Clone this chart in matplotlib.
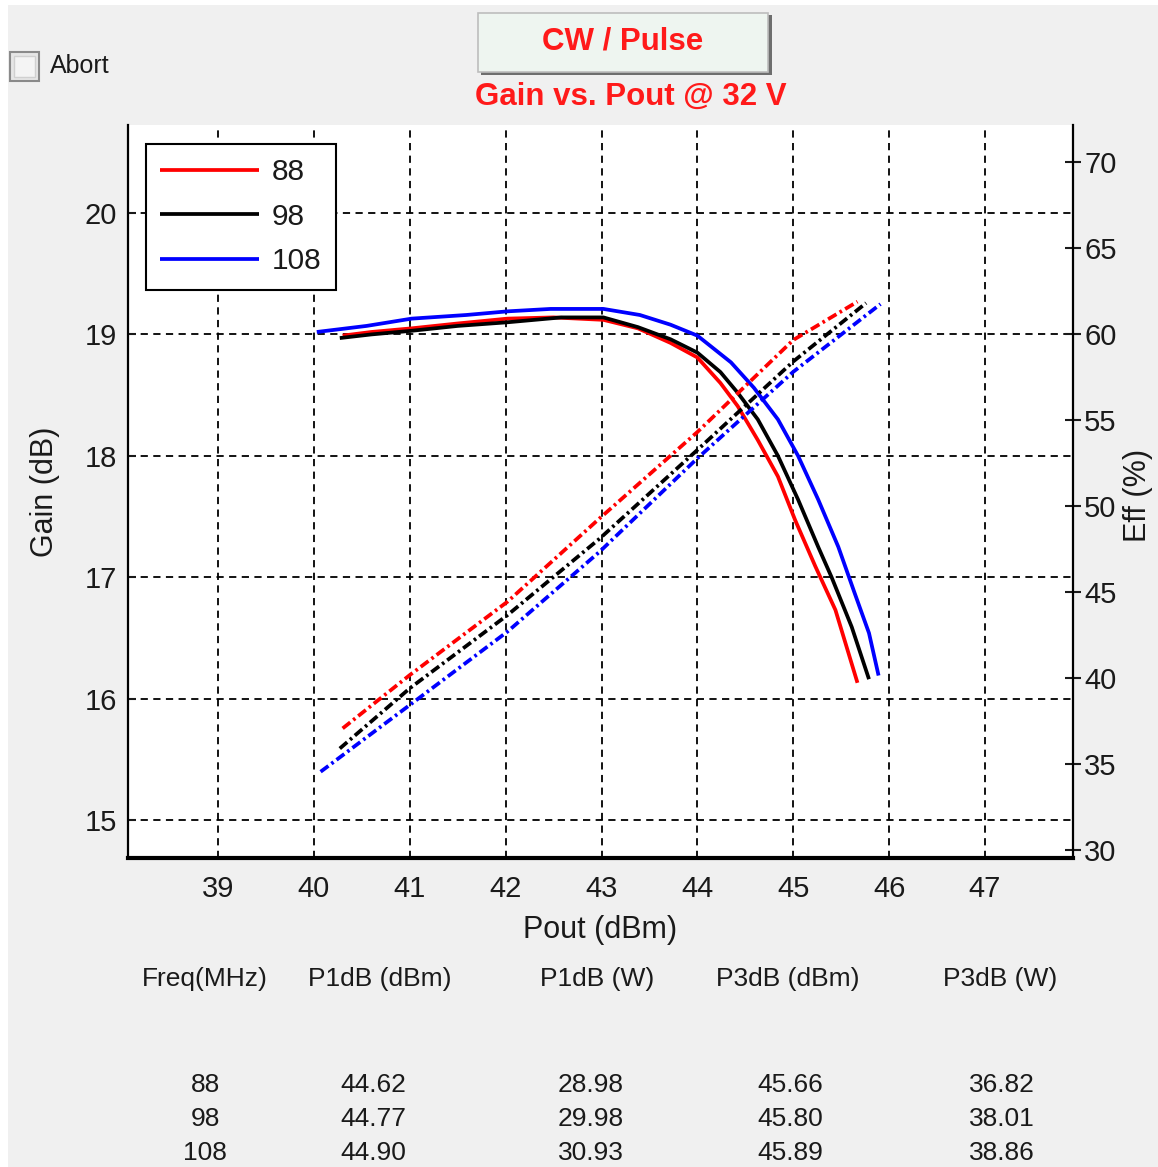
import matplotlib
matplotlib.use("Agg")
import matplotlib.pyplot as plt
from matplotlib.patches import Rectangle

# ---------------- data ----------------
series_names = ["88", "98", "108"]
series_colors = ["#ff0000", "#000000", "#0000ff"]

gain_x_88 = [40.30, 40.6, 41.02, 41.5, 42.02, 42.5, 43.02, 43.38, 43.72, 44.0, 44.24, 44.42, 44.63, 44.84, 45.02, 45.23, 45.44, 45.67]
gain_y_88 = [18.99, 19.02, 19.05, 19.09, 19.13, 19.14, 19.12, 19.05, 18.93, 18.81, 18.60, 18.41, 18.13, 17.83, 17.47, 17.09, 16.73, 16.13]
gain_x_98 = [40.27, 40.6, 41.02, 41.5, 42.02, 42.58, 43.02, 43.38, 43.72, 44.0, 44.24, 44.42, 44.63, 44.84, 45.05, 45.26, 45.4, 45.61, 45.79]
gain_y_98 = [18.97, 19.0, 19.03, 19.07, 19.10, 19.14, 19.14, 19.06, 18.96, 18.85, 18.69, 18.52, 18.30, 18.0, 17.64, 17.25, 17.0, 16.59, 16.16]
gain_x_108 = [40.03, 40.55, 41.02, 41.59, 42.02, 42.47, 43.02, 43.4, 43.72, 44.0, 44.35, 44.59, 44.84, 45.05, 45.26, 45.47, 45.64, 45.79, 45.89]
gain_y_108 = [19.02, 19.07, 19.13, 19.16, 19.19, 19.21, 19.21, 19.16, 19.08, 18.99, 18.77, 18.56, 18.30, 18.0, 17.64, 17.25, 16.87, 16.54, 16.19]

eff_x_88 = [40.30, 41.0, 42.02, 42.98, 44.0, 45.0, 45.67]
eff_y_88 = [37.07, 40.17, 44.44, 49.28, 54.3, 59.65, 61.88]
eff_x_98 = [40.27, 41.0, 42.02, 42.98, 44.0, 45.0, 45.76]
eff_y_98 = [35.9, 39.4, 43.66, 48.1, 53.26, 58.4, 61.8]
eff_x_108 = [40.07, 41.0, 42.02, 42.98, 44.0, 45.0, 45.91]
eff_y_108 = [34.55, 38.43, 42.7, 47.34, 52.77, 57.8, 61.74]

x_ticks = [39, 40, 41, 42, 43, 44, 45, 46, 47]
gain_ticks = [15, 16, 17, 18, 19, 20]
eff_ticks = [30, 35, 40, 45, 50, 55, 60, 65, 70]

table_headers = ["Freq(MHz)", "P1dB (dBm)", "P1dB (W)", "P3dB (dBm)", "P3dB (W)"]
freq_mhz = ["88", "98", "108"]
p1db_dbm = [44.62, 44.77, 44.90]
p1db_w = [28.98, 29.98, 30.93]
p3db_dbm = [45.66, 45.80, 45.89]
p3db_w = [36.82, 38.01, 38.86]

# ---------------- figure ----------------
W, H = 1158, 1167
fig = plt.figure(figsize=(W / 100, H / 100), dpi=100, facecolor="#ffffff")
FONT = ["Liberation Sans", "DejaVu Sans"]
plt.rcParams["font.family"] = FONT


def fx(x):
    return x / W


def fy(y):
    return 1 - y / H


# gray background panel
fig.patches.append(Rectangle((fx(8), 0), 1, fy(5), transform=fig.transFigure,
                             facecolor="#f0f0f0", edgecolor="none", zorder=-10))

ax = fig.add_axes([fx(128), fy(858), fx(1073) - fx(128), fy(125) - fy(858)])
ax.set_facecolor("white")
ax2 = ax.twinx()

gx = [gain_x_88, gain_x_98, gain_x_108]
gy = [gain_y_88, gain_y_98, gain_y_108]
ex = [eff_x_88, eff_x_98, eff_x_108]
ey = [eff_y_88, eff_y_98, eff_y_108]

handles = []
for i in range(3):
    h, = ax.plot(gx[i], gy[i], color=series_colors[i], lw=2.7, solid_capstyle="butt",
                 solid_joinstyle="round", label=series_names[i], zorder=3)
    handles.append(h)
    ax2.plot(ex[i], ey[i], color=series_colors[i], lw=2.7,
             linestyle=(0, (2.6, 1.0, 0.7, 1.0)), zorder=3)

ax.set_xlim(38.061, 47.918)
ax.set_ylim(14.687, 20.725)
ax2.set_ylim(29.535, 72.15)
ax.set_xticks(x_ticks)
ax.set_yticks(gain_ticks)
ax2.set_yticks(eff_ticks)

ax.grid(True, color="black", linestyle=(0, (4, 3)), lw=1.3)
ax.tick_params(axis="x", direction="in", length=0, labelsize=21, pad=12, colors="#1a1a1a")
ax.tick_params(axis="y", direction="in", length=6, width=1.5, labelsize=21, pad=8, colors="#1a1a1a")
ax2.tick_params(axis="y", direction="inout", length=12, width=1.5, labelsize=21, pad=2, colors="#1a1a1a")

for a in (ax, ax2):
    a.spines["top"].set_visible(False)
ax.spines["right"].set_visible(False)
ax2.spines["left"].set_visible(False)
ax2.spines["bottom"].set_visible(False)
ax.spines["left"].set_linewidth(1.6)
ax.spines["bottom"].set_linewidth(3.0)
ax2.spines["right"].set_linewidth(1.6)

ax.set_xlabel("Pout (dBm)", fontsize=22, color="#1a1a1a", va="center")
ax.xaxis.set_label_coords(0.5, (858 - 930) / 733)
ax.set_ylabel("Gain (dB)", fontsize=22, color="#1a1a1a", va="center")
ax.yaxis.set_label_coords((45 - 128) / 945, (858 - 492) / 733)
ax2.set_ylabel("Eff (%)", fontsize=22, color="#1a1a1a", va="center", rotation=90)
ax2.yaxis.set_label_coords((1138 - 128) / 945, (858 - 495) / 733)

leg = ax2.legend(handles=handles, loc="upper left", bbox_to_anchor=(fx(145.7), fy(144)),
                 bbox_transform=fig.transFigure, borderaxespad=0, fontsize=21.5,
                 handlelength=3.3, handletextpad=0.45, labelspacing=0.55,
                 borderpad=0.48, fancybox=False, framealpha=1, edgecolor="black")
leg.get_frame().set_linewidth(1.5)
for t in leg.get_texts():
    t.set_color("#1a1a1a")

# ---------------- header widgets ----------------
fig.patches.append(Rectangle((fx(10), fy(81)), fx(29), fy(52) - fy(81), transform=fig.transFigure,
                             facecolor="#e6e6e6", edgecolor="#8a8a8a", lw=1.5))
fig.patches.append(Rectangle((fx(14), fy(77)), fx(21), fy(56) - fy(77), transform=fig.transFigure,
                             facecolor="#f4f4f4", edgecolor="#d0d0d0", lw=1))
fig.text(fx(50), fy(66), "Abort", fontsize=18, color="#1a1a1a", va="center", ha="left")

fig.patches.append(Rectangle((fx(481), fy(75)), fx(291), fy(15) - fy(75), transform=fig.transFigure,
                             facecolor="#6e6e6e", edgecolor="none"))
fig.patches.append(Rectangle((fx(478), fy(72)), fx(290), fy(13) - fy(72), transform=fig.transFigure,
                             facecolor="#eef5f0", edgecolor="#bdbdbd", lw=1.2))
fig.text(fx(623), fy(42), "CW / Pulse", fontsize=22.5, fontweight="bold", color="#ff1a1a",
         ha="center", va="center")
fig.text(fx(631), fy(97), "Gain vs. Pout @ 32 V", fontsize=22.5, fontweight="bold", color="#ff1a1a",
         ha="center", va="center")

# ---------------- table ----------------
col_x = [205, 380, 597, 788, 1000]
val_x = [205, 373, 591, 790, 1002]
for cx, hdr in zip(col_x, table_headers):
    fig.text(fx(cx), fy(979), hdr, fontsize=19, color="#1a1a1a", ha="center", va="center")
row_y = [1085, 1119, 1153]
for r in range(3):
    vals = [freq_mhz[r], f"{p1db_dbm[r]:.2f}", f"{p1db_w[r]:.2f}", f"{p3db_dbm[r]:.2f}", f"{p3db_w[r]:.2f}"]
    for cx, v in zip(val_x, vals):
        fig.text(fx(cx), fy(row_y[r]), v, fontsize=19, color="#1a1a1a",
                 ha="center", va="center")

fig.savefig("out.png", dpi=100, facecolor=fig.get_facecolor())
